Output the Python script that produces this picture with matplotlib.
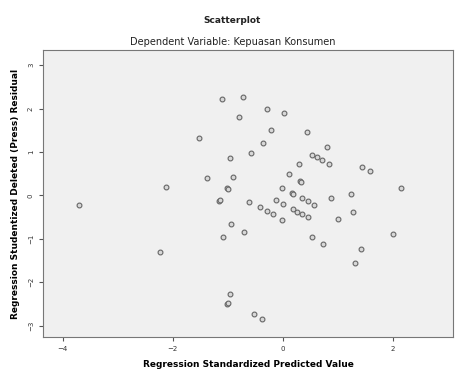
import matplotlib
matplotlib.use("Agg")
import matplotlib.pyplot as plt

# standardized predicted value vs studentized deleted residual
pred = [-3.71, -2.24, -2.13, -1.53, -1.11, -0.73, -0.80, -0.29, 0.02, 0.44,
        -0.22, -0.36, -0.58, -0.96, -1.38, -0.91, -1.02, -1.00, -1.16, -1.14,
        -0.62, 0.80, 0.53, 0.62, 0.71, 0.84, 0.29, 0.11, 0.31, 0.33,
        -0.02, 0.16, 0.18, 0.35, 0.45, 0.56, -0.13, 0.00, 0.18, 0.25,
        0.35, 0.45, -0.42, -0.29, -0.18, -0.02, 0.87, 1.00, -0.71, 0.53,
        0.73, -0.95, -1.09, -0.96, -1.02, -1.00, -0.53, -0.38, 1.44, 1.58,
        2.15, 1.24, 1.27, 2.00, 1.42, 1.31]
resid = [-0.22, -1.30, 0.20, 1.32, 2.22, 2.27, 1.81, 1.99, 1.90, 1.46,
         1.51, 1.21, 0.98, 0.86, 0.40, 0.43, 0.17, 0.15, -0.13, -0.11,
         -0.15, 1.12, 0.93, 0.88, 0.82, 0.73, 0.73, 0.50, 0.33, 0.30,
         0.17, 0.06, 0.04, -0.06, -0.13, -0.22, -0.10, -0.20, -0.31, -0.38,
         -0.43, -0.50, -0.26, -0.36, -0.43, -0.56, -0.06, -0.54, -0.84, -0.96,
         -1.12, -0.66, -0.96, -2.27, -2.50, -2.48, -2.73, -2.85, 0.66, 0.56,
         0.17, 0.03, -0.38, -0.89, -1.23, -1.56]
xticks = [-4, -2, 0, 2]
yticks = [-3, -2, -1, 0, 1, 2, 3]

fig = plt.figure(figsize=(4.65, 3.72), dpi=100)
ax = fig.add_axes([0.0925, 0.094, 0.8815, 0.772])
ax.set_facecolor("#f0f0f0")

ax.scatter(pred, resid, s=12, facecolors="#d8d8d8", edgecolors="#666666", linewidths=0.8)

ax.set_xlim(-4.36, 3.09)
ax.set_ylim(-3.26, 3.35)
ax.set_xticks(xticks)
ax.set_yticks(yticks)
ax.tick_params(labelsize=5, length=3, color="#555555", labelcolor="#333333")
for lbl in ax.get_yticklabels():
    lbl.set_rotation(90)
    lbl.set_va("center")
for s in ax.spines.values():
    s.set_color("#777777")
    s.set_linewidth(0.8)

ax.set_xlabel("Regression Standardized Predicted Value", fontsize=6.5, fontweight="bold", labelpad=6)
ax.set_ylabel("Regression Studentized Deleted (Press) Residual", fontsize=6.5, fontweight="bold", labelpad=6)

fig.text(0.5, 0.945, "Scatterplot", ha="center", va="center", fontsize=6.5, fontweight="bold", color="#222222")
fig.text(0.5, 0.887, "Dependent Variable: Kepuasan Konsumen", ha="center", va="center", fontsize=7, color="#222222")

fig.savefig("out.png", dpi=100)
